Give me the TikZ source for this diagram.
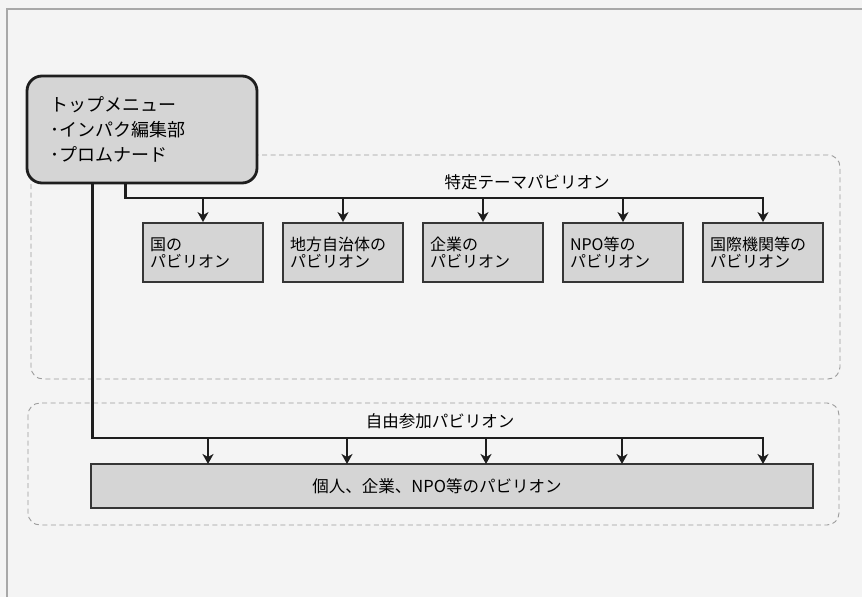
\documentclass[tikz,border=0pt]{standalone}
\usepackage{fontspec}
\setmainfont{Noto Sans CJK JP}
\usetikzlibrary{arrows.meta,calc}
\definecolor{bg}{HTML}{F4F4F4}
\definecolor{boxfill}{HTML}{D5D5D5}
\definecolor{dashcol}{HTML}{9C9C9C}
\definecolor{framecol}{HTML}{A8A8A8}
\definecolor{ink}{HTML}{1E1E1E}
\begin{document}
\begin{tikzpicture}[x=1pt,y=-1pt,
  groupbox/.style={draw=dashcol, line width=0.9pt, rounded corners=12pt, dash pattern=on 5pt off 3.5pt},
  menubox/.style={draw=ink, line width=2.8pt, fill=boxfill, rounded corners=15pt,
    minimum width=230pt, minimum height=107pt, text width=184pt, align=left,
    font=\fontsize{18}{25}\selectfont, inner xsep=0pt},
  pavbox/.style={draw=ink!90, line width=1.8pt, fill=boxfill, minimum width=120pt, minimum height=59pt,
    text width=106pt, align=left, inner xsep=7pt, font=\fontsize{16}{17}\selectfont},
  bigbox/.style={draw=ink!90, line width=1.8pt, fill=boxfill, minimum width=722pt, minimum height=44pt,
    font=\fontsize{16.5}{18}\selectfont},
  grouplabel/.style={font=\fontsize{16.5}{18}\selectfont, inner sep=0pt},
  conn/.style={draw=ink, line width=2.8pt, line join=miter},
  arr/.style={conn, -{Stealth[length=10pt,width=11pt,inset=3pt]}}
]
\fill[bg] (0,0) rectangle (862,597);
\useasboundingbox (0,0) rectangle (862,597);
\draw[framecol, line width=1.5pt] (7,597) -- (7,9) -- (862,9);

% groups
\draw[groupbox] (31,155) rectangle (840,379);
\draw[groupbox] (28,403) rectangle (839,525);

% group labels
\node[grouplabel] (tlabel) at (527,182) {特定テーマパビリオン};
\node[grouplabel] (flabel) at (440,421) {自由参加パビリオン};

% pavilion boxes
\node[pavbox] (b1) at (203,252.5) {国の\\パビリオン};
\node[pavbox] (b2) at (343,252.5) {地方自治体の\\パビリオン};
\node[pavbox] (b3) at (483,252.5) {企業の\\パビリオン};
\node[pavbox] (b4) at (623,252.5) {NPO等の\\パビリオン};
\node[pavbox] (b5) at (763,252.5) {国際機関等の\\パビリオン};
\node[bigbox] (big) at (452,486) {個人、企業、NPO等のパビリオン\hspace*{30pt}};

% connector helper coordinates
\coordinate (tbar) at (0,198);
\coordinate (fbar) at (0,438);
\coordinate (p1) at (208,464);
\coordinate (p2) at (347,464);
\coordinate (p3) at (486,464);
\coordinate (p4) at (622,464);
\coordinate (p5) at (763,464);

% top menu (drawn over the group frame)
\node[menubox] (menu) at (142,129.5) {トップメニュー\\･インパク編集部\\･プロムナード};
\coordinate (ts) at ([xshift=100pt]menu.south west);
\coordinate (fs) at ([xshift=67pt]menu.south west);

% connectors: themed pavilions
\draw[arr] (ts) |- (b5.north |- tbar) -- (b5.north);
\foreach \b in {b1,b2,b3,b4}{\draw[arr] (\b.north |- tbar) -- (\b.north);}

% connectors: free-entry pavilions
\draw[arr] (fs) |- (p5 |- fbar) -- (p5);
\foreach \p in {p1,p2,p3,p4}{\draw[arr] (\p |- fbar) -- (\p);}
\end{tikzpicture}
\end{document}
